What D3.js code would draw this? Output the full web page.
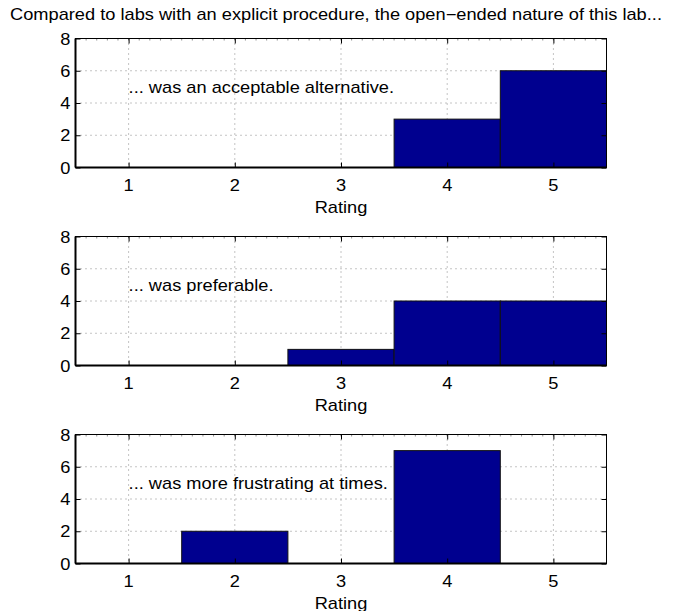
<!doctype html>
<html>
<head>
<meta charset="utf-8">
<script src="https://d3js.org/d3.v7.min.js"></script>
<style>
  body { margin: 0; background: #fff; }
  text { font-family: "Liberation Sans", Arial, Helvetica, sans-serif; fill: #000; font-size: 16px; }
</style>
</head>
<body>
<div id="chart"></div>
<script>
// ratings on x, counts on y
var ratings = [1, 2, 3, 4, 5];
var acceptable = [0, 0, 0, 3, 6];
var preferable = [0, 0, 1, 4, 4];
var frustrating = [0, 2, 0, 7, 0];
var labels = ["... was an acceptable alternative.", "... was preferable.", "... was more frustrating at times."];
var yTicks = [0, 2, 4, 6, 8];
var title = "Compared to labs with an explicit procedure, the open\u2212ended nature of this lab...";

var series = [acceptable, preferable, frustrating];

var W = 673, H = 611;
var left = 75.5, right = 606.5, plotH = 129, tops = [38.5, 236.5, 434.5];
var stretch = 1.14; // the original figure text is a bit wide

var svg = d3.select("#chart").append("svg")
    .attr("width", W).attr("height", H);

// text helper, stretched horizontally around its anchor point
function label(parent, tx, ty, str, anchor) {
  return parent.append("text")
      .attr("transform", "translate(" + tx + "," + ty + ") scale(" + stretch + ",1)")
      .attr("text-anchor", anchor || "start")
      .text(str);
}

label(svg, 336, 20, title, "middle");

var x = d3.scaleLinear().domain([0.5, 5.5]).range([left, right]);

series.forEach(function(vals, k) {
  var top = tops[k], bottom = top + plotH;
  var y = d3.scaleLinear().domain([0, 8]).range([bottom, top]);
  var g = svg.append("g");

  // grid
  g.selectAll(".gx").data(ratings).enter().append("line")
      .attr("x1", function(d) { return x(d); }).attr("x2", function(d) { return x(d); })
      .attr("y1", top).attr("y2", bottom)
      .attr("stroke", "#888").attr("stroke-dasharray", "1,4");
  g.selectAll(".gy").data([2, 4, 6]).enter().append("line")
      .attr("y1", function(d) { return y(d); }).attr("y2", function(d) { return y(d); })
      .attr("x1", left).attr("x2", right)
      .attr("stroke", "#888").attr("stroke-dasharray", "1,4");

  // bars
  g.selectAll(".bar").data(vals.map(function(v, i) { return {r: ratings[i], v: v}; }).filter(function(d) { return d.v > 0; }))
    .enter().append("rect")
      .attr("x", function(d) { return x(d.r - 0.5); })
      .attr("width", function(d) { return x(d.r + 0.5) - x(d.r - 0.5); })
      .attr("y", function(d) { return y(d.v); })
      .attr("height", function(d) { return y(0) - y(d.v); })
      .attr("fill", "#00008f")
      .attr("stroke", "#111").attr("stroke-width", 1);

  // minor ticks on top edge
  g.selectAll(".mt").data(d3.range(0.6, 5.5, 0.1)).enter().append("line")
      .attr("x1", function(d) { return x(d); }).attr("x2", function(d) { return x(d); })
      .attr("y1", top).attr("y2", top + 2)
      .attr("stroke", "#444").attr("stroke-width", 0.6);

  // frame
  g.append("rect").attr("x", left).attr("y", top)
      .attr("width", right - left).attr("height", plotH)
      .attr("fill", "none").attr("stroke", "#000").attr("stroke-width", 1);

  // inward ticks on all four sides, labels drawn below
  var axes = [
    g.append("g").attr("transform", "translate(0," + bottom + ")")
      .call(d3.axisBottom(x).tickValues(ratings).tickSize(-5).tickFormat("")),
    g.append("g").attr("transform", "translate(0," + top + ")")
      .call(d3.axisTop(x).tickValues(ratings).tickSize(-5).tickFormat("")),
    g.append("g").attr("transform", "translate(" + left + ",0)")
      .call(d3.axisLeft(y).tickValues(yTicks).tickSize(-5).tickFormat("")),
    g.append("g").attr("transform", "translate(" + right + ",0)")
      .call(d3.axisRight(y).tickValues(yTicks).tickSize(-5).tickFormat(""))
  ];
  axes.forEach(function(a) {
    a.select(".domain").remove();
    a.selectAll("line").attr("stroke", "#000");
  });

  ratings.forEach(function(r) { label(g, x(r), bottom + 23, r, "middle"); });
  yTicks.forEach(function(t) { label(g, left - 5, y(t) + 6, t, "end"); });

  // thicker left and bottom spines
  g.append("line").attr("x1", left).attr("x2", left).attr("y1", top).attr("y2", bottom)
      .attr("stroke", "#000").attr("stroke-width", 2);
  g.append("line").attr("x1", left).attr("x2", right).attr("y1", bottom).attr("y2", bottom)
      .attr("stroke", "#000").attr("stroke-width", 2);

  label(g, (left + right) / 2, bottom + 45, "Rating", "middle");
  label(g, x(1), y(5) + 6, labels[k], "start");
});
</script>
</body>
</html>
